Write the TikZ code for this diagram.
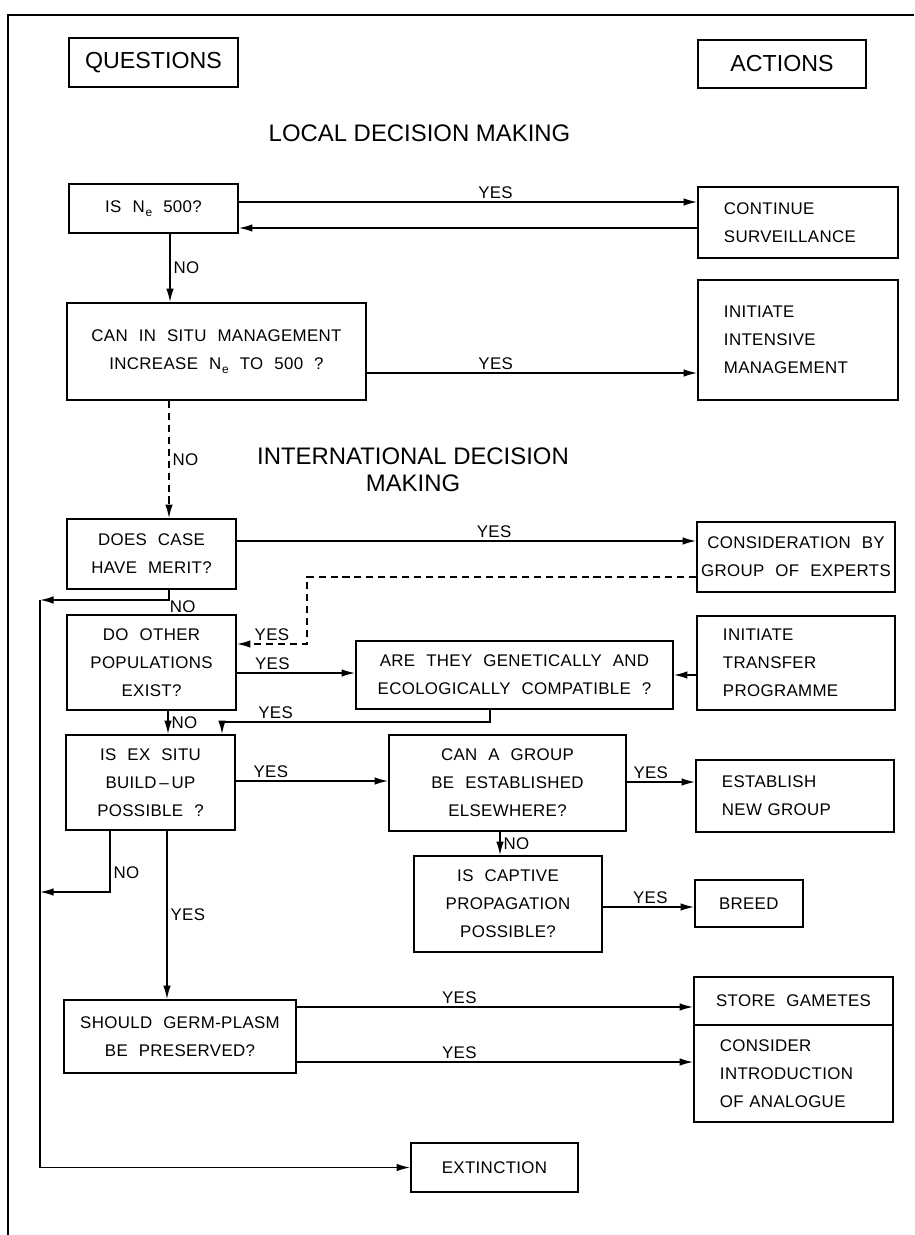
\documentclass[tikz,border=0pt]{standalone}
\usepackage{fontspec}
\setmainfont{Liberation Sans}
\newfontfamily\boxfont[LetterSpace=2,WordSpace=2.2]{Liberation Sans}
\usepackage{tikz}
\usetikzlibrary{arrows.meta,calc}
\newcommand{\Ne}{N\kern0.6pt\raisebox{-0.45ex}{\fontsize{8.5}{8.5}\selectfont e}}

\begin{document}
\begin{tikzpicture}[
    x=0.025cm, y=-0.025cm,
    >={Latex[length=3.4mm,width=1.9mm]},
    font=\boxfont\fontsize{12}{20}\selectfont,
    box/.style={
        draw=black,
        line width=1.2pt,
        align=center,
        inner sep=0pt
    },
    actbox/.style={
        box,
        align=left,
        inner xsep=0.65cm
    },
    head/.style={
        font=\normalfont\fontsize{16.5}{19}\selectfont,
        align=center
    },
    lbl/.style={inner sep=2pt},
    arr/.style={->, line width=1.1pt},
    dsh/.style={arr, dash pattern=on 5pt off 3.5pt}
]
\useasboundingbox (0,0) rectangle (914,1235);

% frame
\draw[line width=1.2pt] (8,1235) -- (8,15) -- (914,15);

% headings
\node[box, head, minimum width=4.225cm, minimum height=1.225cm] (quest) at (153.5,62.5) {QUESTIONS};
\node[box, head, minimum width=4.2cm, minimum height=1.2cm] (actions) at (782,64) {ACTIONS};
\node[head, font=\normalfont\fontsize{17}{19.5}\selectfont] (local) at (419.5,133) {LOCAL DECISION MAKING};
\node[head, font=\normalfont\fontsize{17}{19.5}\selectfont] (intl) at (413,469.5) {INTERNATIONAL DECISION\\MAKING};

% local decision making
\node[box, minimum width=4.225cm, minimum height=1.225cm] (isne) at (153.5,208.5) {IS \Ne{} 500?};
\node[actbox, minimum width=5cm, minimum height=1.775cm, text width=3.7cm] (cont) at (798,222.5)
{CONTINUE\\SURVEILLANCE};
\node[box, minimum width=7.475cm, minimum height=2.425cm] (insitu) at (216.5,351.5)
{CAN IN SITU MANAGEMENT\\INCREASE \Ne{} TO 500 ?};
\node[actbox, minimum width=5cm, minimum height=3cm, text width=3.7cm] (intens) at (798,340)
{INITIATE\\INTENSIVE\\MANAGEMENT};

% international decision making
\node[box, minimum width=4.225cm, minimum height=1.75cm] (merit) at (151.5,554) {DOES CASE\\HAVE MERIT?};
\node[box, minimum width=4.95cm, minimum height=1.75cm] (experts) at (796,557)
{CONSIDERATION BY\\GROUP OF EXPERTS};
\node[box, minimum width=4.225cm, minimum height=2.375cm] (others) at (151.5,662.5)
{DO OTHER\\POPULATIONS\\EXIST?};
\node[box, minimum width=7.925cm, minimum height=1.7cm] (compat) at (514.5,675)
{ARE THEY GENETICALLY AND\\ECOLOGICALLY COMPATIBLE ?};
\node[actbox, minimum width=4.95cm, minimum height=2.35cm, text width=3.65cm] (transfer) at (796,663)
{INITIATE\\TRANSFER\\PROGRAMME};
\node[box, minimum width=4.225cm, minimum height=2.375cm] (exsitu) at (150.5,782.5)
{IS EX SITU\\BUILD\,\textendash\,UP\\POSSIBLE ?};
\node[box, minimum width=5.925cm, minimum height=2.4cm] (group) at (507.5,783)
{CAN A GROUP\\BE ESTABLISHED\\ELSEWHERE?};
\node[actbox, minimum width=4.95cm, minimum height=1.8cm, text width=3.65cm] (newgrp) at (795,796)
{ESTABLISH\\NEW GROUP};
\node[box, minimum width=4.7cm, minimum height=2.4cm] (captive) at (508,904)
{IS CAPTIVE\\PROPAGATION\\POSSIBLE?};
\node[actbox, inner xsep=0.6cm, minimum width=2.7cm, minimum height=1.175cm, text width=1.5cm] (breed) at (749,903.5)
{BREED};
\node[box, minimum width=5.8cm, minimum height=1.825cm] (germ) at (180,1036.5)
{SHOULD GERM-PLASM\\BE PRESERVED?};
\node[box, minimum width=4.975cm, minimum height=1.2cm] (gametes) at (793.5,1001) {STORE GAMETES};
\node[actbox, minimum width=4.975cm, minimum height=2.425cm, text width=3.675cm] (analog) at (793.5,1073.5)
{CONSIDER\\INTRODUCTION\\OF ANALOGUE};
\node[box, minimum width=4.175cm, minimum height=1.225cm] (extinct) at (494.5,1167.5) {EXTINCTION};

\coordinate (rail) at (40,600);

% connectors, local
\draw[arr] (isne.east |- 0,202) -- node[lbl, above, pos=0.56] (y1) {YES} (cont.west |- 0,202);
\draw[arr] (cont.west |- 0,228) -- (isne.east |- 0,228);
\draw[arr] (isne.south -| 170,0) -- node[lbl, right] (n1) {NO} (insitu.north -| 170,0);
\draw[arr] (insitu.east |- 0,373) -- node[lbl, above, pos=0.39] (y2) {YES} (intens.west |- 0,373);
\draw[dsh] (insitu.south -| 169,0) -- node[lbl, right] (n2) {NO} (merit.north -| 169,0);

% connectors, international
\draw[arr] (merit.east |- 0,541) -- node[lbl, above, pos=0.56] (y3) {YES} (experts.west |- 0,541);
\draw[dsh] (experts.west |- 0,577) -| (307,644) -- node[lbl, above] (y4) {YES} (others.east |- 0,644);
\draw[arr] (merit.south -| 169,0) |- node[lbl, below right, pos=0.5, xshift=-2pt, yshift=2pt] (n3) {NO} (rail);
\draw[arr] (others.east |- 0,673) -- node[lbl, above, pos=0.3] (y5) {YES} (compat.west |- 0,673);
\draw[arr] (transfer.west |- 0,675) -- (compat.east |- 0,675);
\draw[arr] (others.south -| 168,0) -- node[lbl, right] (n4) {NO} (exsitu.north -| 168,0);
\draw[arr] (compat.south -| 490,0) |- node[lbl, above, pos=0.9] (y6) {YES} (222,722) -- (exsitu.north -| 222,0);
\draw[arr] (exsitu.east |- 0,781) -- node[lbl, above, pos=0.23] (y7) {YES} (group.west |- 0,781);
\draw[arr] (group.east |- 0,782) -- node[lbl, above, pos=0.35] (y8) {YES} (newgrp.west |- 0,782);
\draw[arr] (group.south -| 500,0) -- node[lbl, right] (n5) {NO} (captive.north -| 500,0);
\draw[arr] (captive.east |- 0,907) -- node[lbl, above, pos=0.52] (y9) {YES} (breed.west |- 0,907);
\draw[arr] (exsitu.south -| 110,0) |- node[lbl, right, pos=0.34] (n6) {NO} (rail |- 0,892);
\draw[arr] (exsitu.south -| 167,0) -- node[lbl, right] (y10) {YES} (germ.north -| 167,0);
\draw[arr] (germ.east |- 0,1007) -- node[lbl, above, pos=0.41] (y11) {YES} (gametes.west |- 0,1007);
\draw[arr] (germ.east |- 0,1062) -- node[lbl, above, pos=0.41] (y12) {YES} (analog.west |- 0,1062);
\draw[arr] (rail) |- (extinct.west);

\end{tikzpicture}
\end{document}
